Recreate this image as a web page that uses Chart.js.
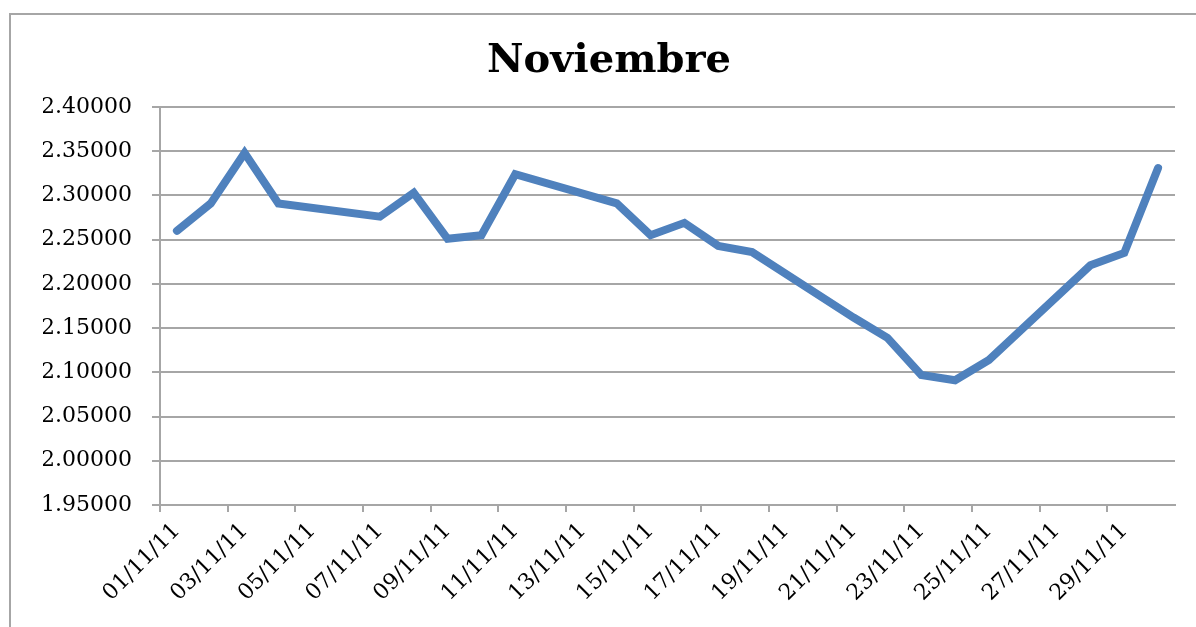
<!DOCTYPE html>
<html>
<head>
<meta charset="utf-8">
<script src="https://cdn.jsdelivr.net/npm/chart.js@4/dist/chart.umd.min.js"></script>
<style>
  html, body { margin: 0; padding: 0; background: #fff; }
  #wrap { position: relative; width: 1196px; height: 627px; overflow: hidden; }
  #frame {
    position: absolute; left: 9px; top: 13px; width: 1300px; height: 700px;
    border-left: 2px solid #a6a6a6; border-top: 2px solid #a6a6a6;
  }
  canvas { position: absolute; left: 0; top: 0; }
</style>
</head>
<body>
<div id="wrap">
  <div id="frame"></div>
  <canvas id="chart" width="1196" height="627"></canvas>
</div>
<script>
// Fechas de noviembre 2011 (fines de semana sin dato)
const dates = [
  "01/11/11", "02/11/11", "03/11/11", "04/11/11", "05/11/11", "06/11/11",
  "07/11/11", "08/11/11", "09/11/11", "10/11/11", "11/11/11", "12/11/11",
  "13/11/11", "14/11/11", "15/11/11", "16/11/11", "17/11/11", "18/11/11",
  "19/11/11", "20/11/11", "21/11/11", "22/11/11", "23/11/11", "24/11/11",
  "25/11/11", "26/11/11", "27/11/11", "28/11/11", "29/11/11", "30/11/11"
];

const values = [
  2.260, 2.291, 2.348, 2.291, null, null,
  2.276, 2.303, 2.251, 2.255, 2.324, null,
  null, 2.291, 2.255, 2.269, 2.243, 2.236,
  null, null, 2.162, 2.139, 2.097, 2.091,
  2.114, null, null, 2.221, 2.235, 2.331
];

const yMin = 1.95;
const yMax = 2.40;
const yStep = 0.05;

const gray = "#a6a6a6";
const serif = '"DejaVu Serif", "Liberation Serif", serif';

new Chart(document.getElementById("chart"), {
  type: "line",
  data: {
    labels: dates,
    datasets: [{
      data: values,
      borderColor: "#4f81bd",
      borderWidth: 8,
      pointRadius: 0,
      tension: 0,
      spanGaps: true,
      borderJoinStyle: "miter",
      borderCapStyle: "round",
    }],
  },
  options: {
    responsive: false,
    animation: false,
    layout: {
      padding: { left: 43, right: 21, top: 14, bottom: 0 },
    },
    plugins: {
      legend: { display: false },
      tooltip: { enabled: false },
      title: {
        display: true,
        text: "Noviembre",
        color: "#000",
        font: { family: serif, size: 40, weight: "bold" },
        padding: { top: 24, bottom: 21 },
      },
    },
    scales: {
      x: {
        offset: true,
        afterFit: (s) => { s.height = 122; },
        grid: {
          offset: true,
          drawOnChartArea: false,
          tickLength: 7,
          lineWidth: 2,
          color: (ctx) => (ctx.index % 2 === 0 ? gray : "rgba(0,0,0,0)"),
        },
        border: { color: gray, width: 2 },
        ticks: {
          autoSkip: false,
          maxRotation: 45,
          minRotation: 45,
          padding: 6,
          color: "#000",
          font: { family: serif, size: 22 },
          callback: (val, i) => (i % 2 === 0 ? dates[i] : ""),
        },
      },
      y: {
        min: yMin,
        max: yMax,
        afterFit: (s) => { s.width = 117; },
        grid: {
          color: gray,
          lineWidth: 2,
          tickLength: 8,
        },
        border: { color: gray, width: 2 },
        ticks: {
          stepSize: yStep,
          padding: 20,
          color: "#000",
          font: { family: serif, size: 22 },
          callback: (v) => Number(v).toFixed(5),
        },
      },
    },
  },
});
</script>
</body>
</html>
